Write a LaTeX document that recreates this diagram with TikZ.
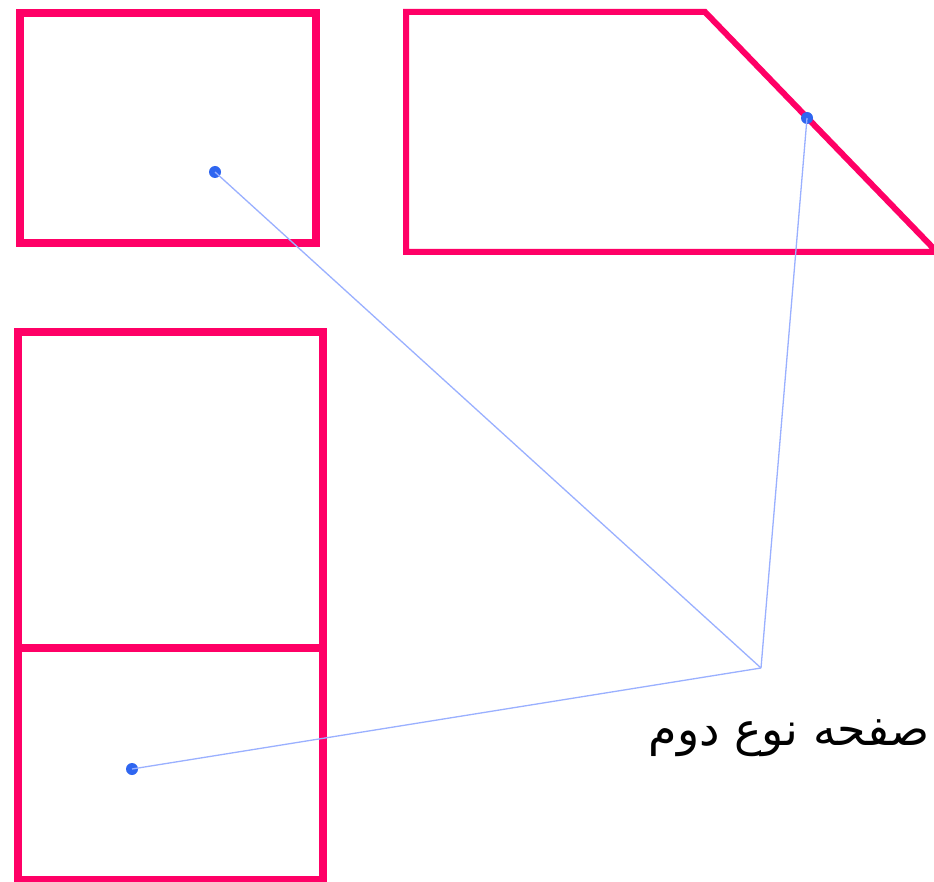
\documentclass[tikz,border=0pt]{standalone}
\usepackage{fontspec}
\TeXXeTstate=1
\newfontfamily\arabicfont[Script=Arabic]{DejaVu Sans}
\definecolor{shapepink}{HTML}{FF0066}
\definecolor{dotblue}{HTML}{2F66F0}
\definecolor{lineblue}{HTML}{9AB0FF}
\tikzset{
  frame/.style={draw=shapepink, line width=8pt, line join=miter},
  trap/.style={draw=shapepink, line width=6pt, line join=miter},
  pointdot/.style={circle, fill=dotblue, inner sep=0pt, minimum size=12pt},
  link/.style={draw=lineblue, line width=1.3pt},
}
\begin{document}
\begin{tikzpicture}[x=1pt,y=-1pt]
\clip (0,0) rectangle (934,882);
\fill[white] (0,0) rectangle (934,882);
% top-left rectangle
\draw[frame] (20,13) rectangle (316,243);
% trapezoid
\draw[trap] (406,12) -- (705,12) -- (937,252) -- (406,252) -- cycle;
% bottom-left rectangle with divider
\draw[frame] (17.5,332.5) rectangle (323,880);
\draw[frame] (17.5,648) -- (323,648);
% connectors
\coordinate (meet) at (761,668);
\node[pointdot] (d1) at (215,172) {};
\node[pointdot] (d2) at (807,118) {};
\node[pointdot] (d3) at (132,769) {};
\draw[link] (d1.center) -- (meet);
\draw[link] (d2.center) -- (meet);
\draw[link] (d3.center) -- (meet);
\node[anchor=east, inner sep=0pt, font=\fontsize{46}{52}\selectfont] (lbl) at (930,738) {\arabicfont\beginR صفحه نوع دوم\endR};
\end{tikzpicture}
\end{document}
